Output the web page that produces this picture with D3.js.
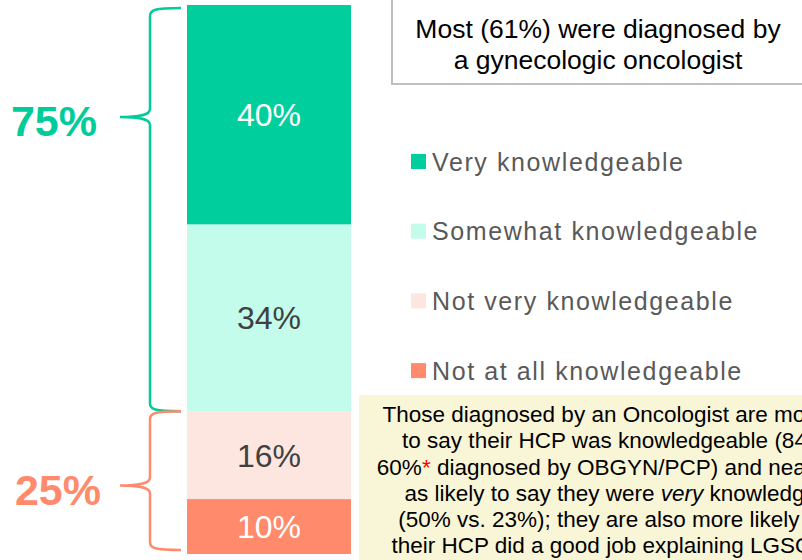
<!DOCTYPE html>
<html>
<head>
<meta charset="utf-8">
<script src="https://cdnjs.cloudflare.com/ajax/libs/d3/7.8.5/d3.min.js"></script>
<style>
  body { margin: 0; background: #fff; overflow: hidden; }
  svg { display: block; font-family: "Liberation Sans", Arial, sans-serif; }
</style>
</head>
<body>
<svg width="802" height="560"></svg>
<script>
// data
var categories = ["Very knowledgeable", "Somewhat knowledgeable", "Not very knowledgeable", "Not at all knowledgeable"];
var values = [40, 34, 16, 10];
var colors = ["#00CF9D", "#C3FCEB", "#FDE5E0", "#FF8A6C"];
var labelColors = ["#ffffff", "#404040", "#404040", "#ffffff"];
var groups = [{label: "75%", from: 0, to: 74, tip: 20.4, color: "#00CC99"},
              {label: "25%", from: 74, to: 100, tip: 87.5, color: "#FF8A6C"}];
var topNote = ["Most (61%) were diagnosed by", "a gynecologic oncologist"];
var noteLines = [
    ["Those diagnosed by an Oncologist are more likely"],
    ["to say their HCP was knowledgeable (84% vs."],
    ["60%", "*", " diagnosed by OBGYN/PCP) and nearly twice"],
    ["as likely to say they were ", "very", " knowledgeable"],
    ["(50% vs. 23%); they are also more likely to say"],
    ["their HCP did a good job explaining LGSOC and"]
];

var svg = d3.select("svg");

var y = d3.scaleLinear().domain([0, 100]).range([5, 554]);
var barX = 187, barW = 164;

// stack
var stack = [];
var acc = 0;
values.forEach(function(v, i) {
    stack.push({v: v, y0: acc, y1: acc + v, i: i});
    acc += v;
});

svg.append("g").selectAll("rect")
    .data(stack)
    .enter().append("rect")
    .attr("x", barX)
    .attr("width", barW)
    .attr("y", function(d) { return y(d.y0); })
    .attr("height", function(d) { return y(d.y1) - y(d.y0); })
    .style("fill", function(d) { return colors[d.i]; });

svg.append("g").selectAll("text")
    .data(stack)
    .enter().append("text")
    .attr("x", barX + barW / 2)
    .attr("y", function(d) { return (y(d.y0) + y(d.y1)) / 2; })
    .attr("dy", "0.36em")
    .attr("text-anchor", "middle")
    .style("font-size", "32px")
    .style("fill", function(d) { return labelColors[d.i]; })
    .text(function(d) { return d.v + "%"; });

// braces
function brace(y0, y1, ym) {
    var xr = 181, xv = 150, xt = 120, r = 8;
    return "M" + xr + "," + y0 +
        " C" + (xv + 4) + "," + y0 + " " + xv + "," + (y0 + 2) + " " + xv + "," + (y0 + r) +
        " L" + xv + "," + (ym - r) +
        " C" + xv + "," + (ym - 2) + " " + (xv - 10) + "," + ym + " " + xt + "," + ym +
        " C" + (xv - 10) + "," + ym + " " + xv + "," + (ym + 2) + " " + xv + "," + (ym + r) +
        " L" + xv + "," + (y1 - r) +
        " C" + xv + "," + (y1 - 2) + " " + (xv + 4) + "," + y1 + " " + xr + "," + y1;
}

var g = svg.append("g").selectAll("g")
    .data(groups)
    .enter().append("g");

g.append("path")
    .attr("d", function(d, i) {
        var a = y(d.from) + (i === 0 ? 3 : 0), b = y(d.to) - (i === 1 ? 4 : 0);
        return brace(a, b, y(d.tip));
    })
    .style("fill", "none")
    .style("stroke", function(d) { return d.color; })
    .style("stroke-width", 2.5);

g.append("text")
    .attr("x", function(d, i) { return i === 0 ? 54 : 58; })
    .attr("y", function(d) { return y(d.tip) + 4; })
    .attr("dy", "0.36em")
    .attr("text-anchor", "middle")
    .style("font-size", "43px")
    .style("font-weight", "bold")
    .style("fill", function(d) { return d.color; })
    .text(function(d) { return d.label; });

// top note box
svg.append("rect")
    .attr("x", 392).attr("y", -5)
    .attr("width", 420).attr("height", 89)
    .style("fill", "#fff")
    .style("stroke", "#BFBFBF")
    .style("stroke-width", 2);

svg.append("g").selectAll("text")
    .data(topNote)
    .enter().append("text")
    .attr("x", 598)
    .attr("y", function(d, i) { return 28 + i * 31; })
    .attr("dy", "0.36em")
    .attr("text-anchor", "middle")
    .style("font-size", "26.5px")
    .style("fill", "#000")
    .text(function(d) { return d; });

// legend
var leg = svg.append("g").selectAll("g")
    .data(categories)
    .enter().append("g")
    .attr("transform", function(d, i) { return "translate(411," + (161.5 + i * 69.7) + ")"; });

leg.append("rect")
    .attr("x", 0).attr("y", -7.5)
    .attr("width", 15).attr("height", 15)
    .style("fill", function(d, i) { return colors[i]; });

leg.append("text")
    .attr("x", 21)
    .attr("dy", "0.36em")
    .style("font-size", "25px")
    .style("letter-spacing", "1.6px")
    .style("fill", "#595959")
    .text(function(d) { return d; });

// yellow note box
svg.append("rect")
    .attr("x", 359).attr("y", 395)
    .attr("width", 460).attr("height", 180)
    .style("fill", "#F9F5D7");

var note = svg.append("g").selectAll("text")
    .data(noteLines)
    .enter().append("text")
    .attr("x", 632)
    .attr("y", function(d, i) { return 414 + i * 26.2; })
    .attr("dy", "0.36em")
    .attr("text-anchor", "middle")
    .style("font-size", "22.5px")
    .style("fill", "#000");

note.selectAll("tspan")
    .data(function(d) { return d; })
    .enter().append("tspan")
    .style("fill", function(d) { return d === "*" ? "#FF0000" : null; })
    .style("font-style", function(d) { return d === "very" ? "italic" : null; })
    .text(function(d) { return d; });
</script>
</body>
</html>
